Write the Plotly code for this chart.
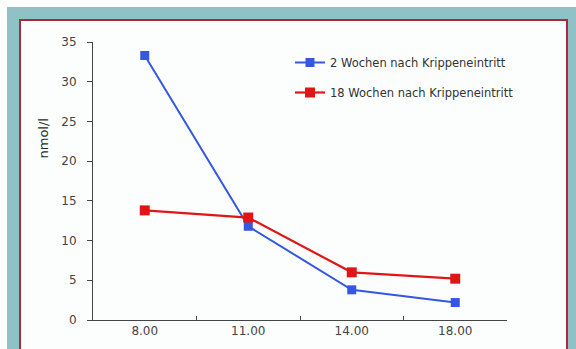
import plotly.graph_objects as go

categories = ["8.00", "11.00", "14.00", "18.00"]
series_2w = [33.3, 11.8, 3.8, 2.2]
series_18w = [13.8, 12.9, 6.0, 5.2]
name_2w = "2 Wochen nach Krippeneintritt"
name_18w = "18 Wochen nach Krippeneintritt"
y_ticks = [0, 5, 10, 15, 20, 25, 30, 35]

W, H = 576, 349
L, R, T, B = 93, 69, 42, 29
pw, ph = W - L - R, H - T - B

def px_x(x):
    return (x - L) / pw

def px_y(y):
    return (H - B - y) / ph

FONT = "DejaVu Sans, Liberation Sans, Arial"

fig = go.Figure()
fig.add_trace(go.Scatter(
    x=categories, y=series_2w, name=name_2w, mode="lines+markers",
    line=dict(color="#3657e0", width=2),
    marker=dict(symbol="square", size=9, color="#3657e0"),
    legendgroup="a"))
fig.add_trace(go.Scatter(
    x=categories, y=series_18w, name=name_18w, mode="lines+markers",
    line=dict(color="#e01616", width=2.2),
    marker=dict(symbol="square", size=10, color="#e01616"),
    legendgroup="b"))

fig.add_shape(type="rect", xref="paper", yref="paper", layer="below",
              x0=px_x(7), x1=px_x(590), y0=px_y(360), y1=px_y(7),
              fillcolor="#8fc1c5", line=dict(width=0))
fig.add_shape(type="rect", xref="paper", yref="paper", layer="below",
              x0=px_x(20), x1=px_x(567), y0=px_y(380), y1=px_y(20),
              fillcolor="#fcfefe", line=dict(color="#a82a3c", width=2))

fig.add_annotation(text="nmol/l", xref="paper", yref="paper",
                   x=px_x(33), y=px_y(139), textangle=-90, showarrow=False,
                   font=dict(family=FONT, size=13, color="#2a2a2a"))

fig.update_layout(
    width=W, height=H,
    margin=dict(l=L, r=R, t=T, b=B),
    paper_bgcolor="white",
    plot_bgcolor="rgba(0,0,0,0)",
    font=dict(family=FONT, size=12, color="#444444"),
    legend=dict(x=px_x(290), y=px_y(48), xanchor="left", yanchor="top",
                bgcolor="rgba(0,0,0,0)", tracegroupgap=11,
                font=dict(size=11.5, color="#333333")),
    xaxis=dict(type="category", range=[-0.5, 3.5], tickson="boundaries",
               ticks="inside", ticklen=4, tickcolor="#444444", showline=True,
               linecolor="#444444", linewidth=1, showgrid=False,
               zeroline=False, fixedrange=True),
    yaxis=dict(range=[0, 35], tickvals=y_ticks, ticks="outside", ticklen=5,
               tickcolor="#444444", showline=True, linecolor="#444444",
               linewidth=1, showgrid=False, zeroline=False,
               ticklabelstandoff=8),
)

fig.write_html("out.html")
